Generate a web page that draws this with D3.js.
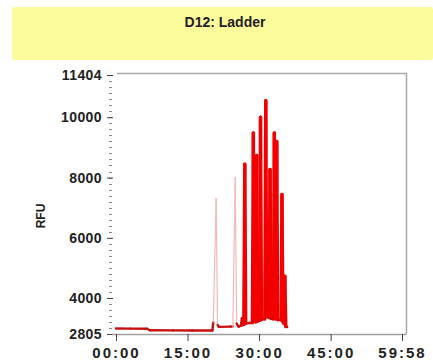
<!DOCTYPE html>
<html>
<head>
<meta charset="utf-8">
<script src="https://cdn.jsdelivr.net/npm/d3@7"></script>
<style>
  body { margin: 0; background: #fff; }
  svg text { font-family: "Liberation Sans", Arial, sans-serif; font-weight: bold; fill: #222; }
</style>
</head>
<body>
<div class="container"></div>
<script>
// trace: time in minutes, RFU
const times = [0.0, 3.0, 6.5, 7.1, 12.0, 16.0, 20.2, 20.4, 21.0, 21.3, 21.6, 24.0, 24.5, 25.0, 25.3, 25.7,
  26.2, 26.4, 26.6, 26.8, 27.0, 27.2, 27.9, 28.6, 28.8, 29.0, 29.3, 29.5, 29.7, 30.1, 30.3, 30.5,
  31.2, 31.4, 31.6, 32.1, 32.3, 32.5, 33.0, 33.2, 33.4, 33.5, 33.7, 33.9, 34.6, 34.8, 35.0, 35.2,
  35.4, 35.6, 35.9]
const rfu = [2990, 2985, 2980, 2930, 2925, 2920, 2920, 3200, 7300, 3100, 3040, 3050, 3060, 8000, 3150, 3050,
  3080, 3330, 3100, 3120, 8440, 3150, 3170, 3180, 9480, 3250, 3200, 8730, 3230, 3250, 10000, 3280,
  3300, 10550, 3380, 3350, 8270, 3320, 3300, 9480, 3320, 3300, 9200, 3280, 3270, 7440, 3200, 3150,
  4720, 3050, 3040]

const yTicks = [2805, 4000, 6000, 8000, 10000, 11404]
const xTicks = [0, 15, 30, 45, 59.967]
const xLabels = ["00:00", "15:00", "30:00", "45:00", "59:58"]

const title = "D12: Ladder"
const yTitle = "RFU"

const width = 433, height = 364
const plot = { left: 116, right: 402, top: 75, bottom: 334 }

const data = times.map((t, i) => ({ t: t, v: rfu[i] }))

let svg = d3.select(".container")
  .append("svg")
  .attr("width", width)
  .attr("height", height)

// yellow title band
svg.append("rect")
  .attr("x", 12).attr("y", 7)
  .attr("width", width - 12).attr("height", 53)
  .attr("rx", 3)
  .attr("fill", "#fdfc9d")

svg.append("text")
  .attr("x", 225).attr("y", 27)
  .attr("text-anchor", "middle")
  .style("font-size", "14px")
  .text(title)

let x = d3.scaleLinear().domain([0, 59.967]).range([plot.left, plot.right])
let y = d3.scaleLinear().domain([2805, 11404]).range([plot.bottom, plot.top])

// frame (top and right)
svg.append("path")
  .attr("d", `M117,73.5H406.5V${plot.bottom}`)
  .attr("fill", "none")
  .attr("stroke", "#a8a8a8")
  .attr("stroke-width", 1.5)

// minor y ticks look like a dotted axis line
svg.append("g")
  .selectAll("line")
  .data(d3.range(3000, 11404, 200))
  .join("line")
  .attr("x1", 109).attr("x2", 112)
  .attr("y1", d => Math.round(y(d)) + 0.5)
  .attr("y2", d => Math.round(y(d)) + 0.5)
  .attr("stroke", "#8a8a8a")

// y axis
let yAxis = svg.append("g")
  .attr("transform", "translate(113,0)")
  .call(d3.axisLeft(y).tickValues(yTicks).tickFormat(d3.format("d")).tickSize(6).tickPadding(5))
yAxis.select(".domain").remove()
yAxis.selectAll(".tick line").attr("stroke", "#444")
yAxis.selectAll("text")
  .style("font-size", "14px")
  .style("letter-spacing", "0.4px")
  .attr("fill", "#222")

// x axis
let xAxis = svg.append("g")
  .attr("transform", `translate(0, ${plot.bottom})`)
  .call(d3.axisBottom(x).tickValues(xTicks).tickFormat((d, i) => xLabels[i]).tickSize(7).tickPadding(6))
xAxis.select(".domain")
  .attr("d", `M112,0.5H406.5`)
  .attr("stroke", "#a0a0a0")
  .attr("stroke-width", 1.5)
xAxis.selectAll(".tick line").attr("stroke", "#444")
xAxis.selectAll("text")
  .style("font-size", "15px")
  .style("letter-spacing", "2px")
  .attr("fill", "#222")

svg.append("text")
  .attr("transform", "translate(45, 216) rotate(-90)")
  .attr("text-anchor", "middle")
  .style("font-size", "12px")
  .text(yTitle)

// trace: the early spikes render thin and faint, the rest solid red
let segs = d3.pairs(data)
let steep = d => Math.abs(y(d[0].v) - y(d[1].v)) > 20
svg.append("g")
  .selectAll("line")
  .data(segs)
  .join("line")
  .attr("x1", d => x(d[0].t)).attr("y1", d => y(d[0].v))
  .attr("x2", d => x(d[1].t)).attr("y2", d => y(d[1].v))
  .attr("stroke", d => {
    if (d[1].t < 26 && steep(d)) return "#f6b8b8"
    if (!steep(d)) return "#c81010"
    return "#f20000"
  })
  .attr("stroke-width", d => (d[1].t < 26 && steep(d)) ? 1.2 : (steep(d) ? 3.4 : 2.4))
  .attr("stroke-linecap", "round")
</script>
</body>
</html>
